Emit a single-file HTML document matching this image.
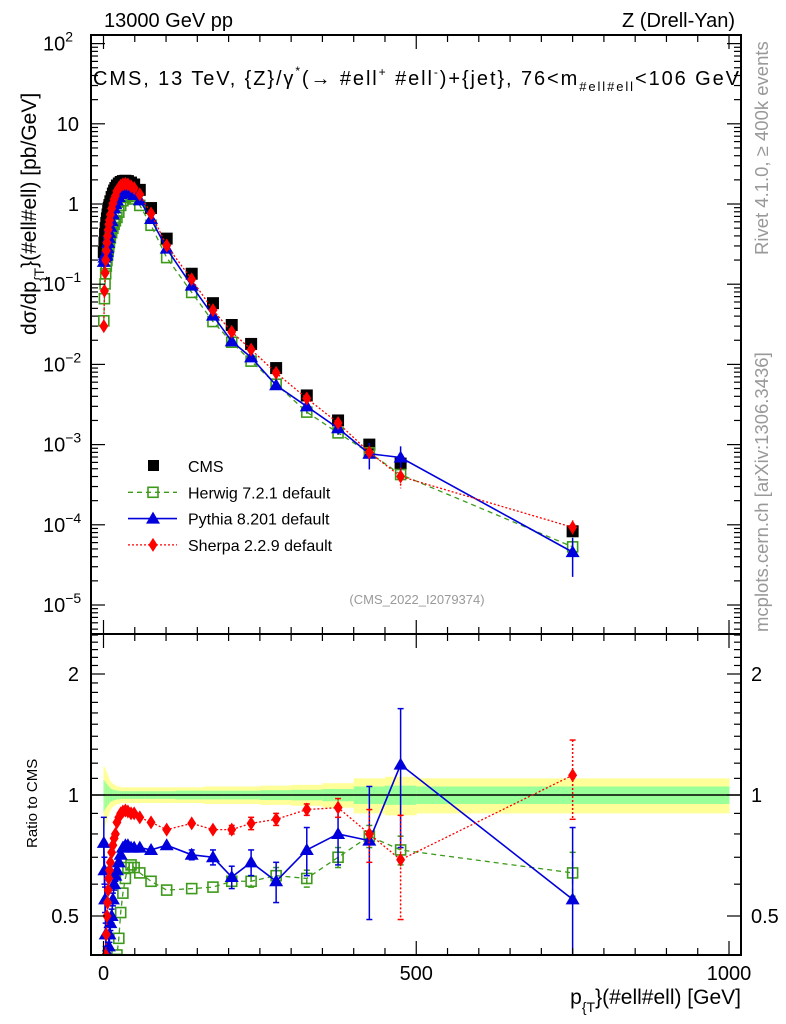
<!DOCTYPE html>
<html><head><meta charset="utf-8"><style>
html,body{margin:0;padding:0;background:#fff;width:786px;height:1024px;overflow:hidden;}
svg{display:block;font-family:"Liberation Sans",Arial,sans-serif;}
</style></head><body>
<svg id="c" width="786" height="1024" viewBox="0 0 786 1024" xmlns="http://www.w3.org/2000/svg">
<defs>
<clipPath id="clipMain"><rect x="91" y="35" width="650" height="599"/></clipPath>
<clipPath id="clipRatio"><rect x="91" y="634" width="650" height="321"/></clipPath>
</defs>
<text x="104" y="27" font-size="20">13000 GeV pp</text>
<text x="735" y="27" font-size="20" text-anchor="end">Z (Drell-Yan)</text>
<g id="bands" clip-path="url(#clipRatio)"></g>
<g id="marks"></g>
<g id="axes"></g>
<text x="93" y="85" font-size="20" textLength="646" lengthAdjust="spacing">CMS, 13 TeV, {Z}/γ<tspan font-size="12" dy="-10">*</tspan><tspan dy="10">(→  #ell</tspan><tspan font-size="12" dy="-9">+</tspan><tspan dy="9"> #ell</tspan><tspan font-size="12" dy="-9">-</tspan><tspan dy="9">)+{jet}, 76&lt;m</tspan><tspan font-size="13" dy="6">#ell#ell</tspan><tspan dy="-6">&lt;106 GeV</tspan></text>
<text x="417" y="604" font-size="13" fill="#999" text-anchor="middle">(CMS_2022_I2079374)</text>
<text transform="translate(768,255) rotate(-90)" font-size="18.5" fill="#999">Rivet 4.1.0, ≥ 400k events</text>
<text transform="translate(768,632) rotate(-90)" font-size="18.5" fill="#999">mcplots.cern.ch [arXiv:1306.3436]</text>
<text transform="translate(36,335) rotate(-90)" font-size="21">dσ/dp<tspan font-size="14" dy="8">{T</tspan><tspan dy="-8">}(#ell#ell) [pb/GeV]</tspan></text>
<text transform="translate(37,848) rotate(-90)" font-size="15">Ratio to CMS</text>
<text x="741" y="1004" font-size="21" text-anchor="end">p<tspan font-size="14" dy="8">{T</tspan><tspan dy="-8">}(#ell#ell) [GeV]</tspan></text>
<g id="legend"></g>
</svg>
<script>
const pt=[0.5,1.5,2.5,3.5,4.5,5.5,6.5,7.5,8.5,9.5,11,13,15,17,19,21.5,24.5,27.5,31,35,39,44,49,58,76,101,141,175,205,236,276,325,375,425,475,750];
const binEdges=[0,1,2,3,4,5,6,7,8,9,10,12,14,16,18,20,23,26,29,33,37,41,47,51,65,87,115,160,190,220,250,300,350,400,450,500,1000];
const cms=[0.25,0.33,0.42,0.5,0.58,0.66,0.74,0.82,0.9,0.97,1.08,1.22,1.35,1.47,1.58,1.7,1.8,1.88,1.93,1.95,1.93,1.85,1.75,1.5,0.89,0.37,0.135,0.058,0.031,0.018,0.009,0.0041,0.002,0.001,0.00058,0.000083];
const yellowUnc=[0.18,0.17,0.16,0.15,0.14,0.13,0.12,0.11,0.1,0.09,0.08,0.07,0.065,0.06,0.055,0.05,0.05,0.045,0.045,0.045,0.045,0.045,0.045,0.045,0.045,0.045,0.045,0.05,0.05,0.05,0.055,0.06,0.07,0.1,0.11,0.1];
const greenUnc=[0.09,0.085,0.08,0.075,0.07,0.065,0.06,0.055,0.05,0.045,0.04,0.035,0.032,0.03,0.028,0.025,0.025,0.022,0.022,0.022,0.022,0.022,0.022,0.022,0.022,0.022,0.025,0.025,0.025,0.025,0.028,0.03,0.035,0.05,0.055,0.05];
const herwigRatio=[0.14,0.2,0.24,0.27,0.29,0.3,0.31,0.32,0.33,0.34,0.35,0.36,0.37,0.38,0.39,0.40,0.44,0.51,0.57,0.62,0.66,0.67,0.66,0.64,0.61,0.58,0.585,0.59,0.61,0.61,0.63,0.62,0.70,0.79,0.73,0.64];
const herwigErr=[0,0,0,0,0,0,0,0,0,0,0,0,0,0,0,0,0,0,0,0,0,0,0,0,0,0,0,0,0.01,0.02,0.03,0.03,0.04,0.05,0.06,0.08];
const pythiaRatio=[0.76,0.65,0.55,0.45,0.4,0.38,0.38,0.4,0.42,0.45,0.48,0.5,0.55,0.6,0.63,0.65,0.68,0.71,0.74,0.75,0.75,0.74,0.74,0.74,0.73,0.75,0.71,0.70,0.625,0.68,0.61,0.73,0.80,0.77,1.19,0.55];
const pythiaErr=[0.12,0.05,0.04,0.03,0.02,0.02,0.02,0.02,0.02,0.02,0.02,0.02,0.02,0.02,0.02,0.01,0.01,0.01,0.01,0.01,0.01,0.01,0.01,0.01,0.01,0.01,0.02,0.03,0.04,0.05,0.07,0.1,0.13,0.28,0.45,0.28];
const sherpaRatio=[0.12,0.25,0.33,0.4,0.45,0.5,0.54,0.58,0.62,0.65,0.68,0.72,0.75,0.78,0.8,0.855,0.88,0.9,0.91,0.915,0.91,0.9,0.9,0.88,0.855,0.82,0.85,0.82,0.82,0.85,0.87,0.92,0.93,0.8,0.69,1.12];
const sherpaErr=[0,0,0,0,0,0,0,0,0,0,0,0,0,0,0,0,0,0,0,0,0,0,0,0,0,0,0.01,0.01,0.02,0.03,0.03,0.03,0.05,0.12,0.2,0.25];
const xTickMajor=[0,500,1000];
const mainTickExp=[2,1,0,-1,-2,-3,-4,-5];
const mainTickLabels=[["10","2"],["10",""],["1",""],["10","−1"],["10","−2"],["10","−3"],["10","−4"],["10","−5"]];
const ratioTickLabels=[0.5,1,2];

const NS="http://www.w3.org/2000/svg";
const L=91,R=741,MT=35,MB=634,RB=955;
const X=v=>103.5+v*0.6255;
const YM=v=>204-Math.log10(v)*80.2;
const YR=r=>795-Math.log2(r)*121;
function mk(tag,attrs,parent){const e=document.createElementNS(NS,tag);for(const k in attrs)e.setAttribute(k,attrs[k]);parent.appendChild(e);return e;}
const axes=document.getElementById('axes'),marks=document.getElementById('marks'),bands=document.getElementById('bands'),leg=document.getElementById('legend');

for(let i=0;i<pt.length;i++){
  const x0=X(binEdges[i]),x1=X(binEdges[i+1]);
  const y=mk('rect',{x:x0,y:YR(1+yellowUnc[i]),width:x1-x0+0.5,height:YR(1-yellowUnc[i])-YR(1+yellowUnc[i]),fill:'#ffff99'},bands);
  
  
  const g=mk('rect',{x:x0,y:YR(1+greenUnc[i]),width:x1-x0+0.5,height:YR(1-greenUnc[i])-YR(1+greenUnc[i]),fill:'#99ff99'},bands);
  
  
}
const one=mk('line',{x1:L,x2:R,y1:YR(1),y2:YR(1),stroke:'#000','stroke-width':1.5},bands);



function marker(type,cx,cy,col,parent){
  let e;
  if(type==='sq') e=mk('rect',{x:cx-6,y:cy-6,width:12,height:12,fill:'#000'},parent);
  else if(type==='osq') e=mk('rect',{x:cx-5,y:cy-5,width:10,height:10,fill:'none',stroke:col,'stroke-width':1.6},parent);
  else if(type==='tri') e=mk('polygon',{points:`${cx},${cy-7} ${cx-7},${cy+5} ${cx+7},${cy+5}`,fill:col},parent);
  else e=mk('polygon',{points:`${cx},${cy-7} ${cx-4.5},${cy} ${cx},${cy+7} ${cx+4.5},${cy}`,fill:col},parent);
  return e;
}
const series=[
 {name:'herwig',ratio:herwigRatio,err:herwigErr,col:'#3d9a1a',dash:'5,4',w:1.3,m:'osq'},
 {name:'pythia',ratio:pythiaRatio,err:pythiaErr,col:'#0000dd',dash:'',w:1.6,m:'tri'},
 {name:'sherpa',ratio:sherpaRatio,err:sherpaErr,col:'#ff0000',dash:'2,2',w:1.3,m:'dia'}
];
const gm=mk('g',{'clip-path':'url(#clipMain)'},marks);


for(let i=0;i<pt.length;i++){
  const s=marker('sq',X(pt[i]),YM(cms[i]),'#000',gm);
  
  
}
const gr=mk('g',{'clip-path':'url(#clipRatio)'},marks);


for(const s of series){
  const vals=pt.map((p,i)=>cms[i]*s.ratio[i]);
  const pm=mk('polyline',{points:pt.map((p,i)=>X(p)+','+YM(vals[i])).join(' '),fill:'none',stroke:s.col,'stroke-width':s.w,'stroke-dasharray':s.dash},gm);
  
  
  const pr=mk('polyline',{points:pt.map((p,i)=>X(p)+','+YR(s.ratio[i])).join(' '),fill:'none',stroke:s.col,'stroke-width':s.w,'stroke-dasharray':s.dash},gr);
  
  
  for(let i=0;i<pt.length;i++){
    const x=X(pt[i]);
    if(s.err[i]>0.015){
      const rel=s.err[i]/s.ratio[i];
      const lo=Math.max(vals[i]*(1-rel),1e-7);
      const eb=mk('line',{x1:x,x2:x,y1:YM(vals[i]*(1+rel)),y2:YM(lo),stroke:s.col,'stroke-width':1.5,'stroke-dasharray':s.dash},gm);
      
      
      const rlo=Math.max(s.ratio[i]-s.err[i],0.2);
      const er=mk('line',{x1:x,x2:x,y1:YR(s.ratio[i]+s.err[i]),y2:YR(rlo),stroke:s.col,'stroke-width':1.5,'stroke-dasharray':s.dash},gr);
      
      
      for(const yy of [YR(s.ratio[i]+s.err[i]),YR(rlo)]){
        const cap=mk('line',{x1:x-3,x2:x+3,y1:yy,y2:yy,stroke:s.col,'stroke-width':1.5},gr);
        
        
      }
    }
    const a=marker(s.m,x,YM(vals[i]),s.col,gm);
    
    
    const b=marker(s.m,x,YR(s.ratio[i]),s.col,gr);
    
    
  }
}
const f1=mk('rect',{x:L,y:MT,width:R-L,height:MB-MT,fill:'none',stroke:'#000','stroke-width':2},axes);


const f2=mk('rect',{x:L,y:MB,width:R-L,height:RB-MB,fill:'none',stroke:'#000','stroke-width':2},axes);


function tick(x1,y1,x2,y2,nm){const t=mk('line',{x1,y1,x2,y2,stroke:'#000','stroke-width':1.2},axes);}
for(let v=0;v<=1000;v+=50){
  const x=X(v),major=v%500===0,len=major?14:7;
  for(const [yt,yb] of [[MT,MB],[MB,RB]]){tick(x,yb,x,yb-len,'x-tick');tick(x,yt,x,yt+len,'x-tick');}
}
for(const v of xTickMajor){
  const t=mk('text',{x:X(v),y:980,'font-size':20,'text-anchor':'middle'},axes);
  t.textContent=String(v);
  
  
}
for(let e=-6;e<=2;e++){
  for(let m=1;m<10;m++){
    const v=m*Math.pow(10,e),y=YM(v);
    if(y<MT||y>MB)continue;
    const len=m===1?14:7;
    tick(L,y,L+len,y,'main-y-tick');tick(R,y,R-len,y,'main-y-tick');
  }
}
mainTickExp.forEach((e,i)=>{
  const t=mk('text',{x:79,y:YM(Math.pow(10,e))+7,'font-size':20,'text-anchor':'end'},axes);
  t.textContent=mainTickLabels[i][0];
  if(mainTickLabels[i][1]){const s=mk('tspan',{'font-size':14,dy:-9},t);s.textContent=mainTickLabels[i][1];t.setAttribute('text-anchor','start');t.setAttribute('x',43);}
  
  
});
const rt=[0.4,0.5,0.6,0.7,0.8,0.9,1,1.1,1.2,1.3,1.4,1.5,1.6,1.7,1.8,1.9,2,2.1,2.2,2.3,2.4,2.5];
for(const r of rt){const y=YR(r);if(y<MB||y>RB)continue;const len=(r===0.5||r===1||r===2)?14:7;tick(L,y,L+len,y,'ratio-y-tick');tick(R,y,R-len,y,'ratio-y-tick');}
for(const r of ratioTickLabels){
  const t=mk('text',{x:79,y:YR(r)+7,'font-size':20,'text-anchor':'end'},axes);
  t.textContent=String(r);
  
  
  const t2=mk('text',{x:751,y:YR(r)+7,'font-size':20},axes);
  t2.textContent=String(r);
  
  
}
const legItems=[['CMS','sq','#000','',0],['Herwig 7.2.1 default','osq','#3d9a1a','5,4',1.3],['Pythia 8.201 default','tri','#0000dd','',1.6],['Sherpa 2.2.9 default','dia','#ff0000','2,2',1.3]];
legItems.forEach((it,i)=>{
  const y=466+i*26.3;
  const g=mk('g',{},leg);
  
  
  if(it[4])mk('line',{x1:128,x2:177,y1:y,y2:y,stroke:it[2],'stroke-width':it[4],'stroke-dasharray':it[3]},g);
  if(it[1]==='sq')mk('rect',{x:148,y:y-6,width:11,height:11,fill:'#000'},g);else marker(it[1],153,y,it[2],g);
  const t=mk('text',{x:188,y:y+6,'font-size':16},g);
  t.textContent=it[0];
});
</script>
</body></html>
